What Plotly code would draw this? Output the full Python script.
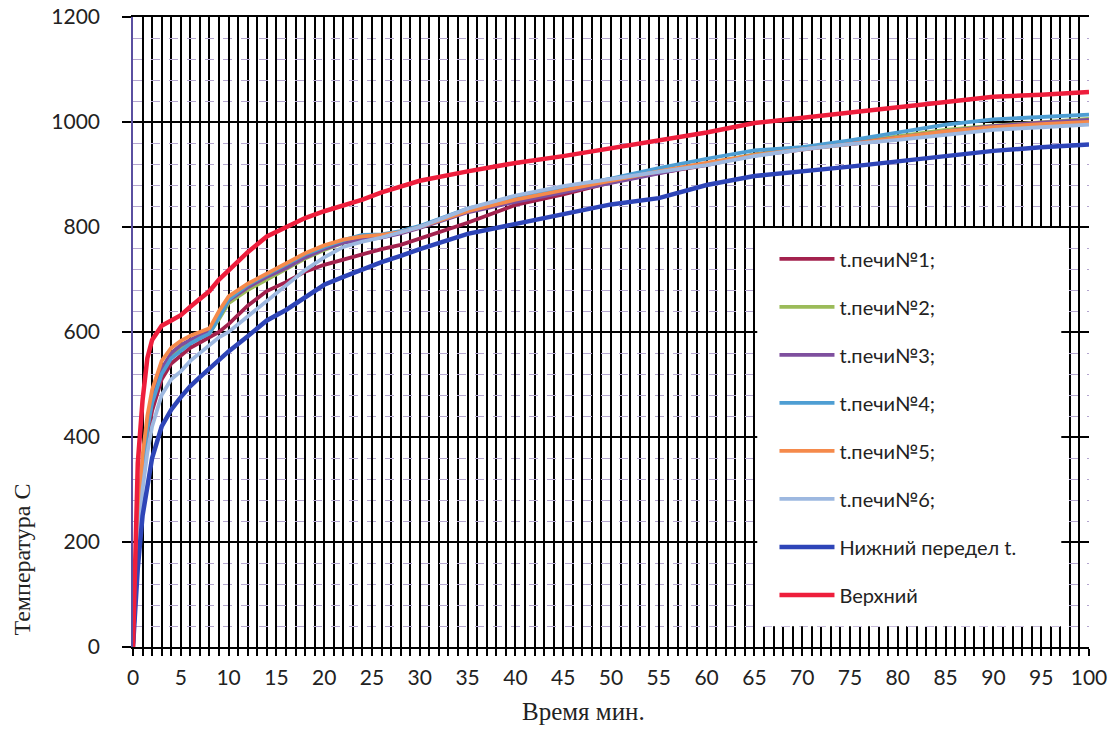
import plotly.graph_objects as go

t = [0, 0.5, 1, 1.5, 2, 3, 4, 5, 6, 7, 8, 9, 10, 12, 14, 16, 18, 20, 22, 24, 26, 28, 30,
     35, 40, 45, 50, 55, 60, 65, 70, 75, 80, 85, 90, 95, 100]

s1 = [0, 190, 330, 400, 450, 510, 540, 555, 570, 580, 590, 600, 615, 650, 678, 695, 715, 728, 738, 748, 758, 766, 778,
      808, 842, 862, 885, 903, 918, 938, 950, 958, 968, 980, 990, 998, 1003]
s2 = [0, 200, 345, 420, 470, 525, 555, 570, 582, 590, 598, 625, 655, 680, 700, 718, 740, 756, 770, 778, 782, 790, 800,
      830, 850, 868, 885, 905, 922, 938, 948, 960, 972, 985, 993, 1000, 1006]
s3 = [0, 205, 350, 425, 475, 530, 560, 575, 585, 595, 603, 630, 660, 685, 705, 722, 742, 758, 770, 776, 780, 788, 798,
      828, 848, 866, 884, 903, 920, 936, 947, 958, 970, 982, 992, 999, 1004]
s4 = [0, 195, 340, 415, 465, 520, 550, 565, 578, 588, 597, 628, 662, 690, 710, 728, 748, 762, 775, 785, 786, 792, 802,
      835, 856, 875, 892, 912, 930, 946, 952, 965, 980, 995, 1005, 1010, 1014]
s5 = [0, 215, 365, 440, 490, 545, 570, 583, 593, 600, 607, 640, 668, 692, 712, 730, 750, 765, 776, 782, 785, 790, 800,
      830, 852, 870, 888, 906, 922, 937, 948, 958, 970, 982, 990, 996, 1000]
s6 = [0, 170, 300, 370, 420, 480, 510, 525, 545, 560, 575, 590, 600, 630, 658, 690, 718, 742, 762, 772, 780, 790, 800,
      835, 860, 878, 892, 905, 918, 935, 948, 958, 966, 976, 985, 990, 995]
lower = [0, 150, 250, 310, 360, 420, 452, 476, 497, 514, 530, 547, 563, 592, 622, 642, 665, 690, 705, 720, 733, 745, 758,
         787, 806, 826, 843, 855, 880, 897, 905, 915, 925, 935, 945, 952, 957]
upper = [0, 350, 470, 550, 585, 612, 622, 632, 648, 663, 678, 700, 718, 752, 782, 800, 817, 830, 840, 852, 866, 878, 888,
         906, 922, 935, 950, 964, 980, 998, 1008, 1018, 1030, 1038, 1048, 1052, 1057]

names = ["t.печи№1;", "t.печи№2;", "t.печи№3;", "t.печи№4;", "t.печи№5;", "t.печи№6;",
         "Нижний передел t.", "Верхний"]
series = [s1, s2, s3, s4, s5, s6, lower, upper]
colors = ["#A3224E", "#9BBB59", "#7E4F9E", "#4E9ED3", "#F58A4B", "#9DB8E0", "#2E45B8", "#EE1E3C"]
widths = [3.8, 3.8, 3.8, 3.8, 3.8, 3.8, 4.5, 4.5]

x_ticks = list(range(0, 101, 5))
y_ticks = list(range(0, 1201, 200))

fig = go.Figure()
for i, (n, s, c, w) in enumerate(zip(names, series, colors, widths)):
    fig.add_trace(go.Scatter(x=t, y=s, mode="lines", name=n,
                             line=dict(color=c, width=w), legendgroup=str(i)))

# white legend box covering grid
fig.add_shape(type="rect", xref="paper", yref="paper", x0=0.653, x1=0.971, y0=0.033, y1=0.665,
              fillcolor="white", line=dict(width=0), layer="above")

fig.update_layout(
    width=1113, height=729,
    margin=dict(l=133, r=24, t=17, b=82),
    paper_bgcolor="white", plot_bgcolor="white",
    font=dict(family="Lato", size=21, color="#222"),
    showlegend=True,
    legend=dict(x=0.671, y=0.647, xanchor="left", yanchor="top",
                bgcolor="rgba(0,0,0,0)", font=dict(family="Lato", size=20, color="#222"),
                traceorder="grouped", tracegroupgap=19, itemwidth=55),
    xaxis=dict(range=[0, 100], tickvals=x_ticks, showgrid=True, gridcolor="black", gridwidth=2,
               ticks="outside", ticklen=7, tickcolor="black", tickwidth=2,
               minor=dict(dtick=1, showgrid=True, gridcolor="black", gridwidth=2,
                          ticks="outside", ticklen=7, tickcolor="black", tickwidth=2),
               showline=True, linecolor="black", linewidth=2, mirror=True,
               zeroline=False, ticklabelstandoff=4, automargin=False, ticklabeloverflow="allow"),
    yaxis=dict(range=[0, 1200], tickvals=y_ticks, showgrid=True, gridcolor="black", gridwidth=2,
               ticks="outside", ticklen=9, tickcolor="black", tickwidth=1.5,
               minor=dict(dtick=40, showgrid=True, gridcolor="#B4A6CF", gridwidth=1, griddash="dash"),
               showline=True, linecolor="#5A4FA0", linewidth=1.5, mirror=False,
               zeroline=False, ticklabelstandoff=18, automargin=False),
    annotations=[
        dict(text="Время мин.", xref="paper", yref="paper", x=0.471, y=-0.1016,
             showarrow=False, font=dict(family="Liberation Serif", size=25, color="#222"),
             xanchor="center", yanchor="middle"),
        dict(text="Температура C", xref="paper", yref="paper", x=-0.116, y=0.139,
             showarrow=False, textangle=-90, font=dict(family="Liberation Serif", size=24, color="#222"),
             xanchor="center", yanchor="middle"),
    ],
)

fig.write_html("out.html", config={"displayModeBar": False},
               post_script="document.body.style.margin='0';")
